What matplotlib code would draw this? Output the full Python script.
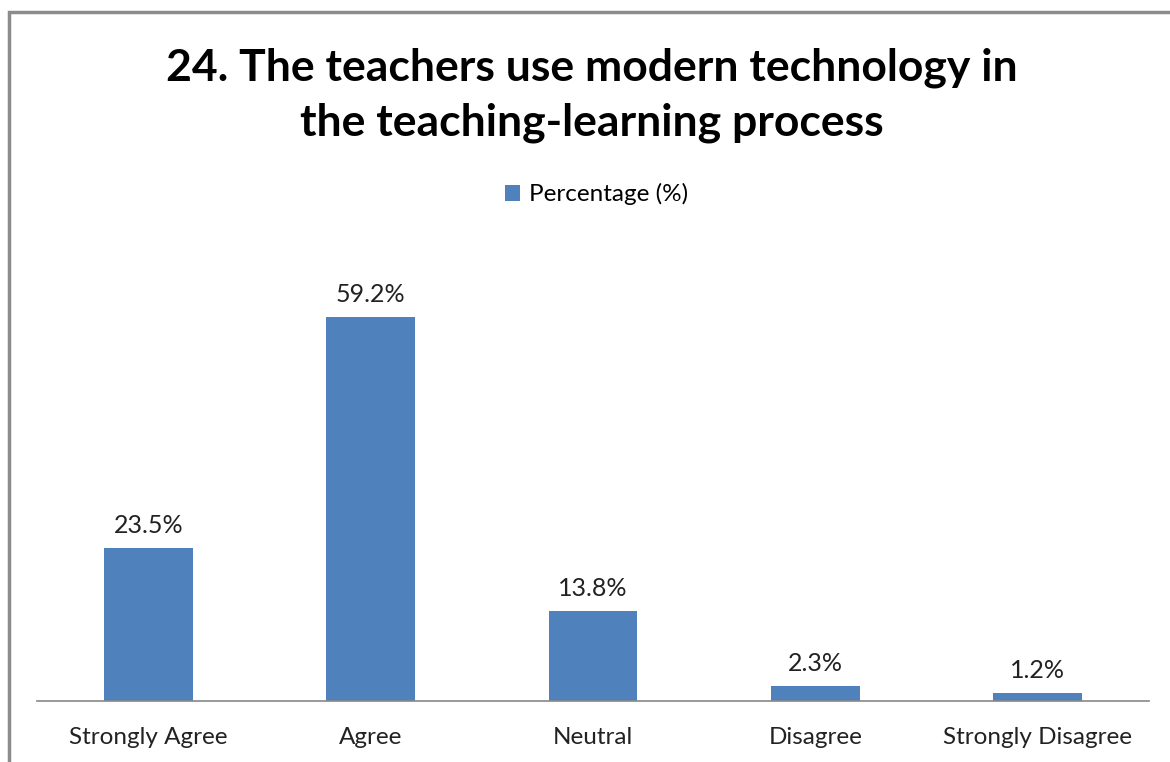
import matplotlib.pyplot as plt
from matplotlib.patches import Rectangle

# Data
categories = ['Strongly Agree', 'Agree', 'Neutral', 'Disagree', 'Strongly Disagree']
percentages = [23.5, 59.2, 13.8, 2.3, 1.2]
labels = ['23.5%', '59.2%', '13.8%', '2.3%', '1.2%']

plt.rcParams['font.family'] = ['Lato', 'DejaVu Sans']

fig = plt.figure(figsize=(11.7, 7.62), dpi=100)
fig.patches.append(Rectangle((9 / 1170, -0.1), 1.2, 1 - 12 / 762 + 0.1,
                             transform=fig.transFigure, fill=False,
                             edgecolor='#8c8c8c', linewidth=2.5))

ax = fig.add_axes([37 / 1170, 61 / 762, 1112 / 1170, 455 / 762])
x = range(len(categories))
bars = ax.bar(x, percentages, width=0.4, color='#4F81BD', label='Percentage (%)')
for b, t in zip(bars, labels):
    ax.annotate(t, (b.get_x() + b.get_width() / 2, b.get_height()),
                xytext=(0, 8), textcoords='offset points',
                ha='center', va='bottom', fontsize=18, color='#222222')

ax.set_xlim(-0.5, len(categories) - 0.5)
ax.set_ylim(0, 70.1)
ax.set_xticks(list(x))
ax.set_xticklabels(categories, fontsize=17.5, color='#222222')
ax.tick_params(axis='x', length=0, pad=19)
ax.set_yticks([])
for s in ['top', 'right', 'left']:
    ax.spines[s].set_visible(False)
ax.spines['bottom'].set_color('#888888')
ax.spines['bottom'].set_linewidth(1.2)

fig.text(0.506, 0.875, '24. The teachers use modern technology in\nthe teaching-learning process',
         ha='center', va='center', fontsize=32, fontweight='bold', linespacing=1.45)

fig.legend(loc='center', bbox_to_anchor=(0.51, 0.745), frameon=False,
           fontsize=17.5, handlelength=0.6, handleheight=0.6, handletextpad=0.4)

plt.savefig('out.png', dpi=100)
